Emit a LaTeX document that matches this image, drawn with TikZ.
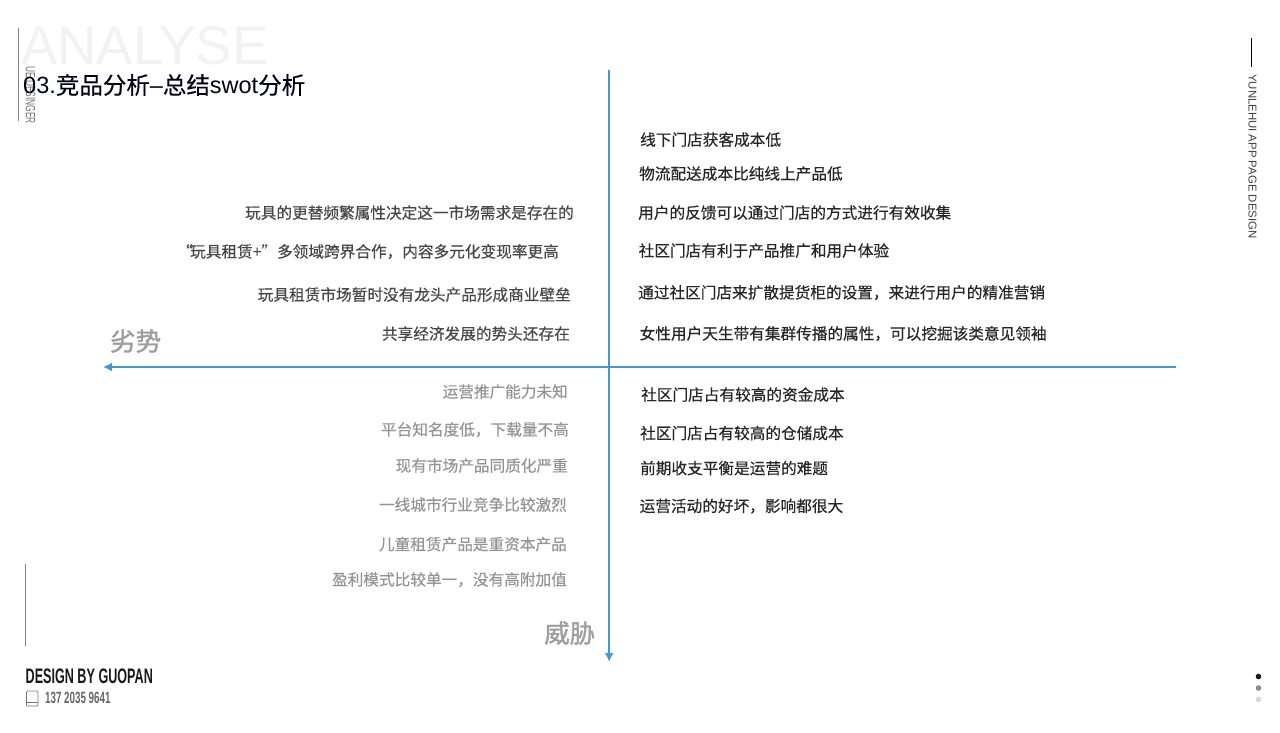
\documentclass[tikz,border=0pt]{standalone}
\usepackage{fontspec}
\setmainfont{Liberation Sans}
\newfontfamily\cjk{Noto Sans CJK SC}
\newfontfamily\cjkheavy[FakeBold=0.35]{Noto Sans CJK SC}
\newfontfamily\cjkhead[FakeBold=1.6]{Noto Sans CJK SC}
\newfontfamily\condfont[FakeStretch=0.62]{Liberation Sans}
\newfontfamily\condbold[FakeStretch=0.6]{Liberation Sans Bold}
\definecolor{axisblue}{HTML}{3F97DC}
\usetikzlibrary{arrows.meta}
\tikzset{
    righttext/.style={anchor=west, inner sep=0pt, yshift=0.9pt, text=black!85, font=\cjkheavy\fontsize{15.65}{18}\selectfont},
    lefttext/.style={anchor=east, inner sep=0pt, yshift=0.9pt, text=black!72, font=\cjkheavy\fontsize{15.65}{18}\selectfont},
    fadetext/.style={lefttext, text=black!42},
    heading/.style={inner sep=0pt, text=black!38, font=\cjkhead\fontsize{25.5}{28}\selectfont},
    axis/.style={draw=axisblue, line width=2pt, -{Latex[length=9pt,width=9pt]}},
    greyrule/.style={draw=black!50, line width=0.8pt},
}
\begin{document}
\begin{tikzpicture}[x=1pt, y=-1pt]
    \useasboundingbox (0,0) rectangle (1280,733);

    % page furniture, top left
    \node[anchor=west, inner sep=0pt, text=black!5, font=\fontsize{54.5}{60}\selectfont] (bigtitle) at (21,46) {ANALYSE};
    \coordinate (ruletop) at (18.5,28);
    \coordinate (rulebottom) at (18.5,121);
    \draw[greyrule] (ruletop) -- (rulebottom);
    \node[rotate=-90, anchor=west, inner sep=0pt, text=black!55, font=\condfont\fontsize{13.5}{14}\selectfont] (designer) at (30.5,66) {UE DESINGER};
    \node[anchor=west, inner sep=0pt, text=black!90!blue, font=\cjkheavy\fontsize{23.5}{26}\selectfont] (title) at (23,85) {{\rmfamily 03.}竞品分析{\rmfamily –}总结{\rmfamily swot}分析};

    % page furniture, top right
    \coordinate (sidetop) at (1251,38);
    \coordinate (sidebottom) at (1251,67);
    \draw[draw=black, line width=0.9pt] (sidetop) -- (sidebottom);
    \node[rotate=-90, anchor=west, inner sep=0pt, text=black!75, font=\fontsize{11.4}{14}\selectfont] (project) at (1252.5,74) {YUNLEHUI APP PAGE DESIGN};

    % page furniture, bottom
    \coordinate (lowtop) at (25.5,564);
    \coordinate (lowbottom) at (25.5,646);
    \draw[greyrule] (lowtop) -- (lowbottom);
    \node[anchor=west, inner sep=0pt, text=black!90, font=\condbold\fontsize{21}{24}\selectfont] (author) at (25.5,676) {DESIGN BY GUOPAN};
    \node[anchor=west, inner sep=0pt, text=black!60, font=\condbold\fontsize{16.3}{18}\selectfont] (phone) at (45,698) {137 2035 9641};
    \draw[draw=black!55, line width=0.7pt, rounded corners=1pt] (26.5,691) rectangle (38,706);
    \draw[draw=black!55, line width=0.5pt] (26.5,702.5) -- (38,702.5);

    \fill[black!90] (1258.5,676.5) circle (2.8);
    \fill[black!45] (1258.5,688) circle (2.8);
    \fill[black!15] (1258.5,699.5) circle (2.8);

    % axes
    \coordinate (axistop) at (609.2,70);
    \coordinate (axisbottom) at (609.2,662);
    \coordinate (axisright) at (1176,367);
    \coordinate (axisleft) at (103,367);
    \draw[axis] (axistop) -- (axisbottom);
    \draw[axis] (axisright) -- (axisleft);

    \node[heading, anchor=west] (weak) at (110,341) {劣势};
    \node[heading, anchor=west] (threat) at (544,633) {威胁};

    % upper right
    \node[righttext] (r1) at (640,140.5) {线下门店获客成本低};
    \node[righttext] (r2) at (639,174.5) {物流配送成本比纯线上产品低};
    \node[righttext] (r3) at (638,213.5) {用户的反馈可以通过门店的方式进行有效收集};
    \node[righttext] (r4) at (638.5,251.5) {社区门店有利于产品推广和用户体验};
    \node[righttext] (r5) at (638,293.5) {通过社区门店来扩散提货柜的设置，来进行用户的精准营销};
    \node[righttext] (r6) at (639.5,334.5) {女性用户天生带有集群传播的属性，可以挖掘该类意见领袖};

    % upper left
    \node[lefttext] (l1) at (574,213.5) {玩具的更替频繁属性决定这一市场需求是存在的};
    \node[lefttext] (l2) at (559,252.5) {“\kern-2.5pt 玩具租赁+”多领域跨界合作，内容多元化变现率更高};
    \node[lefttext] (l3) at (571,295.5) {玩具租赁市场暂时没有龙头产品形成商业壁垒};
    \node[lefttext] (l4) at (570,334.5) {共享经济发展的势头还存在};

    % lower left
    \node[fadetext] (f1) at (568,392.5) {运营推广能力未知};
    \node[fadetext] (f2) at (569,430.5) {平台知名度低，下载量不高};
    \node[fadetext] (f3) at (568,466.5) {现有市场产品同质化严重};
    \node[fadetext] (f4) at (567,505.5) {一线城市行业竞争比较激烈};
    \node[fadetext] (f5) at (567,545) {儿童租赁产品是重资本产品};
    \node[fadetext] (f6) at (567,580.5) {盈利模式比较单一，没有高附加值};

    % lower right
    \node[righttext] (b1) at (641,395.5) {社区门店占有较高的资金成本};
    \node[righttext] (b2) at (640,434) {社区门店占有较高的仓储成本};
    \node[righttext] (b3) at (640,469) {前期收支平衡是运营的难题};
    \node[righttext] (b4) at (639.5,507) {运营活动的好坏，影响都很大};
\end{tikzpicture}
\end{document}
